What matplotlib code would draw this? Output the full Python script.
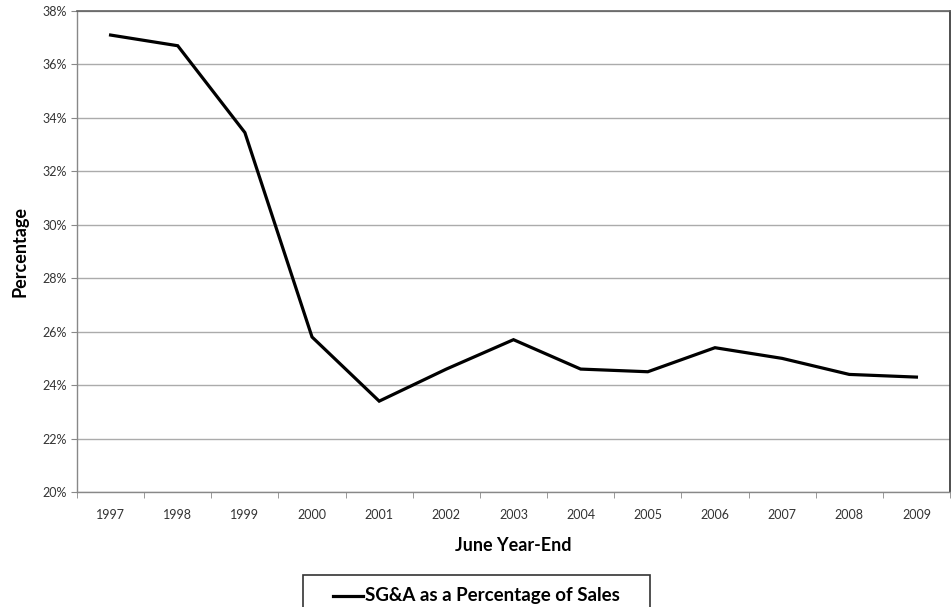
import matplotlib
matplotlib.use("Agg")
import matplotlib.pyplot as plt
from matplotlib.ticker import FuncFormatter, FixedLocator
from matplotlib.patches import Rectangle
from matplotlib.lines import Line2D

plt.rcParams['font.family'] = ['Lato', 'DejaVu Sans']

years = ["1997", "1998", "1999", "2000", "2001", "2002", "2003",
         "2004", "2005", "2006", "2007", "2008", "2009"]
sga_pct = [37.1, 36.7, 33.45, 25.8, 23.4, 24.6, 25.7, 24.6, 24.5, 25.4, 25.0, 24.4, 24.3]
series_name = "SG&A as a Percentage of Sales"

W, H = 951, 607
fig = plt.figure(figsize=(W / 100, H / 100), dpi=100)
ax = fig.add_axes([77/W, (H-492)/H, (950-77)/W, (492-11)/H])

x = list(range(len(years)))
ax.plot(x, sga_pct, color="black", lw=2.3, label=series_name, solid_joinstyle="miter")

ax.set_xlim(-0.5, len(years) - 0.5)
ax.set_ylim(20, 38)
ax.set_yticks(range(20, 39, 2))
ax.yaxis.set_major_formatter(FuncFormatter(lambda v, p: f"{int(v)}%"))
ax.grid(axis="y", color="#ababab", lw=1.0)
ax.set_axisbelow(True)

ax.set_xticks(x)
ax.set_xticklabels(years)
ax.xaxis.set_minor_locator(FixedLocator([i - 0.5 for i in range(len(years) + 1)]))
ax.tick_params(axis="x", which="major", length=0, pad=12, labelsize=9, labelcolor="#333333")
ax.tick_params(axis="x", which="minor", length=4, color="#888888", direction="out")
ax.tick_params(axis="y", length=4, color="#888888", labelsize=9, labelcolor="#333333", pad=3)

for side in ["left", "bottom"]:
    ax.spines[side].set_color("#888888")
    ax.spines[side].set_linewidth(1.0)
ax.spines["top"].set_color("#606060")
ax.spines["top"].set_linewidth(1.2)
ax.spines["right"].set_color("#303030")
ax.spines["right"].set_linewidth(1.2)

ax.set_ylabel("Percentage", fontsize=13, fontweight="bold", labelpad=10)
ax.set_xlabel("June Year-End", fontsize=13, fontweight="bold", labelpad=12)

# Legend box (drawn in figure pixel coordinates, bottom runs off the image)
def fx(px):
    return px / W

def fy(py):
    return (H - py) / H

fig.patches.append(Rectangle((fx(303), fy(615)), fx(650) - fx(303), fy(575) - fy(615),
                             transform=fig.transFigure, facecolor="white",
                             edgecolor="#333333", lw=1.2))
fig.lines.append(Line2D([fx(333), fx(363)], [fy(596), fy(596)], transform=fig.transFigure,
                        color="black", lw=2.3))
fig.text(fx(365), fy(596), series_name, fontsize=13.5, fontweight="bold",
         ha="left", va="center")

fig.savefig("out.png", dpi=100)
